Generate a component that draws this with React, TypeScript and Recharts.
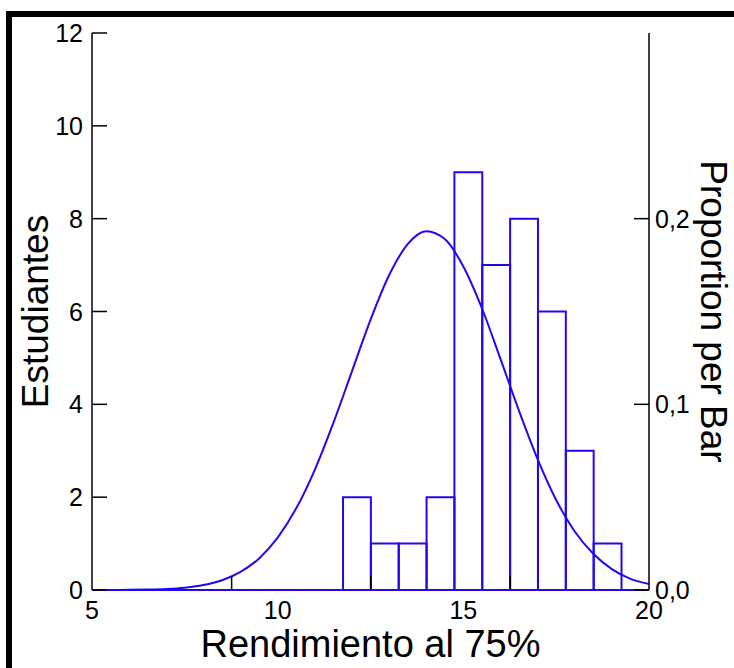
import React from 'react';
import { ComposedChart, XAxis, YAxis, Line, ReferenceArea, ReferenceLine } from 'recharts';

// Histogram bins (left edges, width) and counts
const binStarts = [11.76, 12.51, 13.26, 14.01, 14.76, 15.51, 16.26, 17.01, 17.76, 18.51];
const binWidth = 0.75;
const binCounts = [2, 1, 1, 2, 9, 7, 8, 6, 3, 1];

// Fitted normal curve (count scale)
const curveX = [5, 5.5, 6, 6.5, 7, 7.5, 8, 8.5, 9, 9.5, 10, 10.5, 11, 11.5, 12, 12.5, 13, 13.5, 14, 14.5, 15, 15.5, 16, 16.5, 17, 17.5, 18, 18.5, 19, 19.5, 20];
const curveY = [0.0005, 0.0015, 0.004, 0.01, 0.023, 0.051, 0.106, 0.21, 0.39, 0.68, 1.13, 1.76, 2.59, 3.6, 4.71, 5.82, 6.78, 7.45, 7.73, 7.56, 6.97, 6.07, 4.98, 3.86, 2.82, 1.94, 1.26, 0.78, 0.45, 0.24, 0.13];

const xLabelTicks = [5, 10, 15, 20];
const frameTicks = [8.76, 12.51, 16.26];
const countTicks = [0, 2, 4, 6, 8, 10, 12];
const propTicks = [0, 0.1, 0.2];
const propLabels = ['0,0', '0,1', '0,2'];

const BLUE = '#2208f2';
const FONT = '"Liberation Sans", Arial, sans-serif';
const TICK_FS = 25;

const data = curveX.map((x, i) => ({ x, y: curveY[i] }));
const bottomTicks = [...xLabelTicks, ...frameTicks].sort((a, b) => a - b);

const BottomTick = (props: any) => {
  const { x, y, payload } = props;
  const v = payload.value;
  if (frameTicks.includes(v)) {
    return <line x1={x} x2={x} y1={y - 1} y2={y - 14} stroke="#000" strokeWidth={1.5} />;
  }
  return (
    <text x={x} y={y + 29} textAnchor="middle" fontFamily={FONT} fontSize={TICK_FS} fill="#000">
      {v}
    </text>
  );
};

const TopTick = (props: any) => {
  const { x, y } = props;
  return <line x1={x} x2={x} y1={y} y2={y + 13} stroke="#000" strokeWidth={1.5} />;
};

const LeftTick = (props: any) => {
  const { x, y, payload } = props;
  return (
    <g>
      <line x1={x} x2={x + 15} y1={y} y2={y} stroke="#000" strokeWidth={1.5} />
      <text x={x - 9} y={y + 9} textAnchor="end" fontFamily={FONT} fontSize={TICK_FS} fill="#000">
        {payload.value}
      </text>
    </g>
  );
};

const RightTick = (props: any) => {
  const { x, y, payload, index } = props;
  const idx = propTicks.indexOf(payload.value);
  return (
    <g>
      <line x1={x} x2={x - 15} y1={y} y2={y} stroke="#000" strokeWidth={1.5} />
      <text x={x + 6} y={y + 9} textAnchor="start" fontFamily={FONT} fontSize={TICK_FS} fill="#000">
        {propLabels[idx >= 0 ? idx : index]}
      </text>
    </g>
  );
};

export default function App() {
  return (
    <div style={{ position: 'fixed', left: 0, top: 0, width: 734, height: 668, background: '#fff', overflow: 'hidden' }}>
      <div
        style={{
          position: 'absolute',
          left: 6,
          top: 11,
          width: 760,
          height: 700,
          borderTop: '6px solid #000',
          borderLeft: '6px solid #000',
          boxSizing: 'border-box',
        }}
      />
      <div style={{ position: 'absolute', left: 0, top: 0 }}>
        <ComposedChart width={734} height={668} data={data} margin={{ top: 33, right: 0, bottom: 0, left: 0 }}>
          <XAxis
            xAxisId="b"
            dataKey="x"
            type="number"
            domain={[5, 20]}
            ticks={bottomTicks}
            interval={0}
            orientation="bottom"
            height={78}
            tickSize={0}
            tickMargin={0}
            tickLine={false}
            tick={<BottomTick />}
            axisLine={{ stroke: BLUE, strokeWidth: 2 }}
            allowDataOverflow
            label={{
              content: (p: any) => {
                const vb = p.viewBox;
                return (
                  <text x={vb.x + vb.width / 2} y={vb.y + 67} textAnchor="middle" fontFamily={FONT} fontSize={38} fill="#000">
                    Rendimiento al 75%
                  </text>
                );
              },
            }}
          />
          <XAxis
            xAxisId="t"
            dataKey="x"
            type="number"
            domain={[5, 20]}
            ticks={frameTicks}
            interval={0}
            orientation="top"
            height={0}
            tickSize={0}
            tickMargin={0}
            tickLine={false}
            tick={<TopTick />}
            axisLine={{ stroke: '#000', strokeWidth: 1.5 }}
            allowDataOverflow
          />
          <YAxis
            yAxisId="l"
            type="number"
            domain={[0, 12]}
            ticks={countTicks}
            interval={0}
            width={92}
            tickSize={0}
            tickMargin={0}
            tickLine={false}
            tick={<LeftTick />}
            axisLine={{ stroke: '#000', strokeWidth: 1.5 }}
            allowDataOverflow
            label={{
              content: (p: any) => {
                const vb = p.viewBox;
                const cx = vb.x + 35;
                const cy = vb.y + vb.height / 2;
                return (
                  <text x={cx} y={cy} transform={`rotate(-90 ${cx} ${cy})`} textAnchor="middle" dominantBaseline="central" fontFamily={FONT} fontSize={37} fill="#000">
                    Estudiantes
                  </text>
                );
              },
            }}
          />
          <YAxis
            yAxisId="r"
            orientation="right"
            type="number"
            domain={[0, 0.3]}
            ticks={propTicks}
            interval={0}
            width={85}
            tickSize={0}
            tickMargin={0}
            tickLine={false}
            tick={<RightTick />}
            axisLine={{ stroke: '#000', strokeWidth: 1.5 }}
            allowDataOverflow
            label={{
              content: (p: any) => {
                const vb = p.viewBox;
                const cx = vb.x + 64;
                const cy = vb.y + vb.height / 2;
                return (
                  <text x={cx} y={cy} transform={`rotate(90 ${cx} ${cy})`} textAnchor="middle" dominantBaseline="central" fontFamily={FONT} fontSize={37} fill="#000">
                    Proportion per Bar
                  </text>
                );
              },
            }}
          />
          <ReferenceLine xAxisId="b" yAxisId="r" y={0} stroke={BLUE} strokeWidth={2} ifOverflow="extendDomain" />
          <ReferenceLine xAxisId="b" yAxisId="r" y={0.3} stroke="none" ifOverflow="extendDomain" />
          {binStarts.map((s, i) => (
            <ReferenceArea
              key={i}
              xAxisId="b"
              yAxisId="l"
              x1={s}
              x2={s + binWidth}
              y1={0}
              y2={binCounts[i]}
              fill="none"
              fillOpacity={0}
              stroke={BLUE}
              strokeWidth={2}
              strokeOpacity={1}
            />
          ))}
          <Line
            xAxisId="b"
            yAxisId="l"
            dataKey="y"
            type="monotone"
            dot={false}
            activeDot={false}
            stroke={BLUE}
            strokeWidth={2}
            isAnimationActive={false}
          />
        </ComposedChart>
      </div>
    </div>
  );
}
